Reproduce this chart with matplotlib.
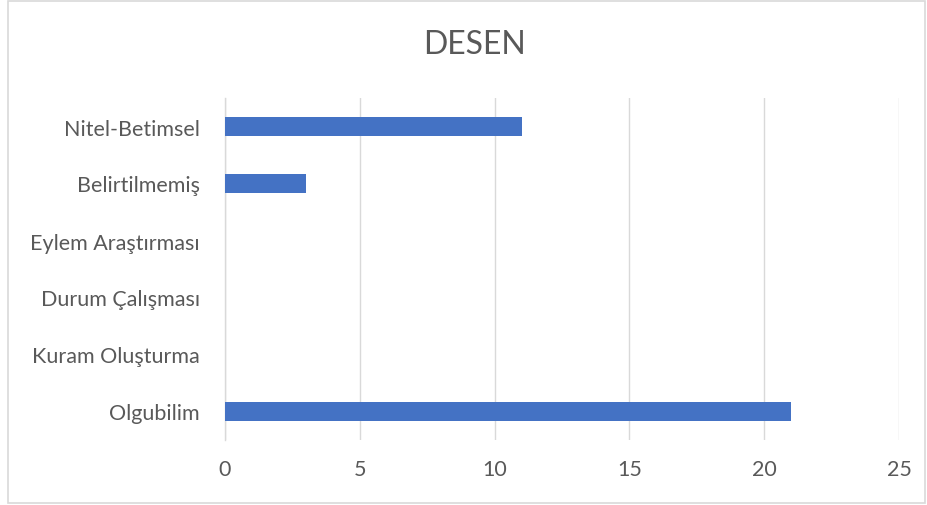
import matplotlib
matplotlib.use("Agg")
import matplotlib.pyplot as plt
from matplotlib.patches import Rectangle

categories = ["Olgubilim", "Kuram Oluşturma", "Durum Çalışması",
              "Eylem Araştırması", "Belirtilmemiş", "Nitel-Betimsel"]
values = [21, 0, 0, 0, 3, 11]
xticks = [0, 5, 10, 15, 20, 25]
title = "DESEN"

plt.rcParams['font.family'] = ['Lato', 'DejaVu Sans']

W, H = 927, 506
fig = plt.figure(figsize=(W / 100, H / 100), dpi=100)
ax = fig.add_axes([225 / W, 1 - 441 / H, (899 - 225) / W, (441 - 99) / H])

ypos = list(range(len(categories)))
ax.barh(ypos, values, height=0.35, color="#4472C4", zorder=3)
ax.set_xlim(0, 25)
ax.set_ylim(-0.5, len(categories) - 0.5)
ax.set_xticks(xticks)
ax.set_xticklabels([str(t) for t in xticks])
ax.set_yticks(ypos)
ax.set_yticklabels(categories)
ax.grid(axis="x", color="#D9D9D9", linewidth=1, zorder=0)
for s in ["top", "right", "bottom"]:
    ax.spines[s].set_visible(False)
ax.spines["left"].set_color("#D9D9D9")
ax.spines["left"].set_linewidth(1)
ax.tick_params(axis="both", length=0, colors="#595959", labelsize=15.5)
ax.tick_params(axis="x", pad=14)
ax.tick_params(axis="y", pad=18)

fig.text(475 / W, 1 - 45 / H, title, ha="center", va="center",
         fontsize=23, color="#595959")

fig.patches.append(Rectangle((8 / W, 2 / H), (917) / W, (H - 4) / H,
                             transform=fig.transFigure, fill=False,
                             edgecolor="#D9D9D9", linewidth=1.2))

fig.savefig("out.png", dpi=100, facecolor="white")
